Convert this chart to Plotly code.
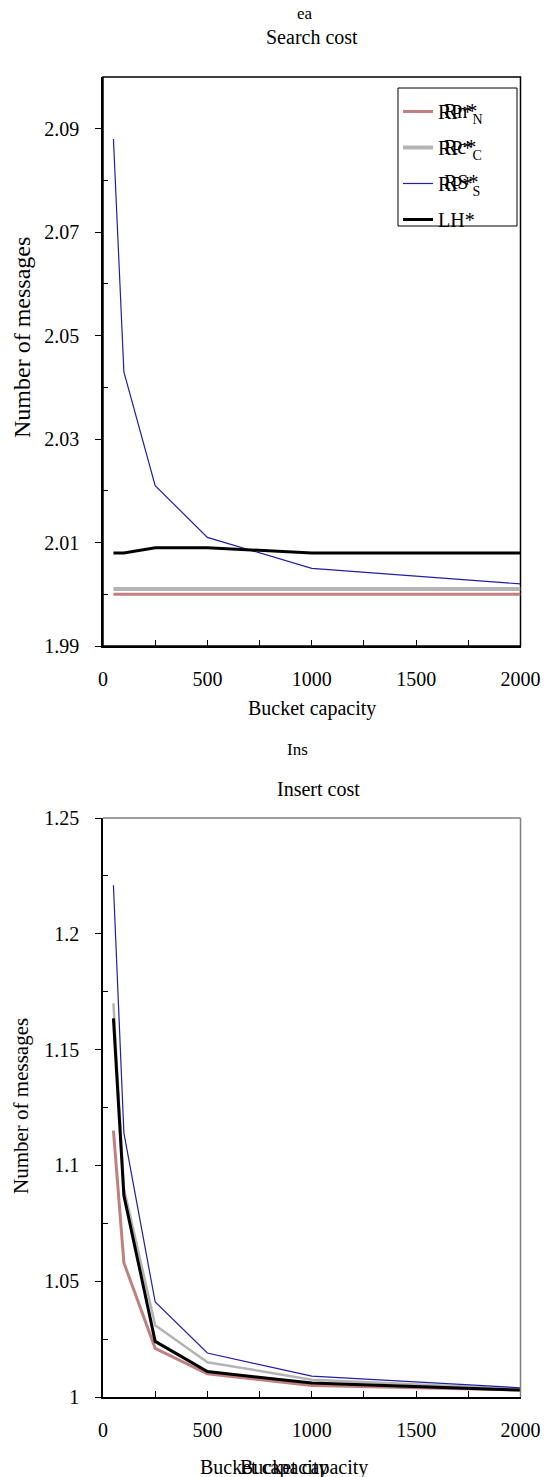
import plotly.graph_objects as go

# ---- data ----
bucket_capacity = [50, 100, 250, 500, 1000, 2000]

search_rp_n = [2.000, 2.000, 2.000, 2.000, 2.000, 2.000]
search_rp_c = [2.001, 2.001, 2.001, 2.001, 2.001, 2.001]
search_rp_s = [2.088, 2.043, 2.021, 2.011, 2.005, 2.002]
search_lh = [2.008, 2.008, 2.009, 2.009, 2.008, 2.008]

insert_rp_n = [1.115, 1.058, 1.021, 1.010, 1.005, 1.003]
insert_rp_c = [1.170, 1.090, 1.031, 1.015, 1.0075, 1.0035]
insert_rp_s = [1.221, 1.114, 1.041, 1.019, 1.009, 1.004]
insert_lh = [1.1635, 1.087, 1.024, 1.011, 1.006, 1.003]

series_names = ["RP*<sub>N</sub>", "RP*<sub>C</sub>", "RP*<sub>S</sub>", "LH*"]
overlay_labels = ["Rn*", "Rc*", "RS*"]
series_colors = ["#C08080", "#B4B4B4", "#2020A0", "#000000"]
search_widths = [3, 4, 1.2, 3]
insert_widths = [3, 2.5, 1.2, 3]

W, H = 551, 1477
FONT = "Liberation Serif"

fig = go.Figure()

search_vals = [search_rp_n, search_rp_c, search_rp_s, search_lh]
insert_vals = [insert_rp_n, insert_rp_c, insert_rp_s, insert_lh]

for i, (name, col) in enumerate(zip(series_names, series_colors)):
    fig.add_trace(go.Scatter(x=bucket_capacity, y=search_vals[i], mode="lines", name=name,
                             line=dict(color=col, width=search_widths[i]), xaxis="x", yaxis="y",
                             legendgroup=f"g{i}", showlegend=True))
for i, (name, col) in enumerate(zip(series_names, series_colors)):
    fig.add_trace(go.Scatter(x=bucket_capacity, y=insert_vals[i], mode="lines", name=name,
                             line=dict(color=col, width=insert_widths[i]), xaxis="x2", yaxis="y2",
                             legendgroup=f"g{i}", showlegend=False))

def px_x(x):
    return x / W

def px_y(y):
    return 1 - y / H

xdom = [px_x(103), px_x(520.5)]
top_dom = [px_y(646), px_y(77)]
bot_dom = [px_y(1397), px_y(818)]

tickfont = dict(family=FONT, size=20, color="black")

def xaxis(anchor):
    return dict(domain=xdom, anchor=anchor, range=[0, 2000], tickvals=[0, 500, 1000, 1500, 2000],
                ticks="inside", ticklen=6, tickcolor="black", showgrid=False, zeroline=False,
                showline=True, linecolor="black", linewidth=1.5, mirror=False, automargin=False,
                tickfont=tickfont, ticklabelstandoff=14,
                minor=dict(ticks="inside", dtick=250, tick0=0, ticklen=6, tickcolor="black"))

fig.update_layout(
    width=W, height=H,
    margin=dict(l=0, r=0, t=0, b=0, autoexpand=False),
    paper_bgcolor="white", plot_bgcolor="white",
    font=dict(family=FONT, size=20, color="black"),
    xaxis=xaxis("y"),
    yaxis=dict(domain=top_dom, anchor="x", range=[1.99, 2.1], tickvals=[1.99, 2.01, 2.03, 2.05, 2.07, 2.09],
               ticktext=["1.99", "2.01", "2.03", "2.05", "2.07", "2.09"], automargin=False,
               ticks="outside", ticklen=6, tickcolor="black", showgrid=False, zeroline=False,
               showline=True, linecolor="black", linewidth=1.5, tickfont=tickfont, ticklabelstandoff=12,
               minor=dict(ticks="inside", tickvals=[2.0, 2.02, 2.04, 2.06, 2.08], ticklen=5, tickcolor="black")),
    xaxis2=xaxis("y2"),
    yaxis2=dict(domain=bot_dom, anchor="x2", range=[1.0, 1.25], tickvals=[1.0, 1.05, 1.1, 1.15, 1.2, 1.25],
                ticktext=["1", "1.05", "1.1", "1.15", "1.2", "1.25"], automargin=False,
                ticks="outside", ticklen=6, tickcolor="black", showgrid=False, zeroline=False,
                showline=True, linecolor="black", linewidth=1.5, tickfont=tickfont, ticklabelstandoff=12,
                minor=dict(ticks="inside", tickvals=[1.025, 1.075, 1.125, 1.175, 1.225], ticklen=5, tickcolor="black")),
    legend=dict(x=px_x(398), y=px_y(92), xanchor="left", yanchor="top",
                bgcolor="rgba(0,0,0,0)", borderwidth=0,
                font=dict(family=FONT, size=20, color="black"), tracegroupgap=7,
                itemwidth=30),
    showlegend=True,
)

# legend frame
fig.add_shape(type="rect", xref="paper", yref="paper", x0=px_x(398), x1=px_x(517), y0=px_y(226), y1=px_y(88),
              line=dict(color="black", width=1), fillcolor="white", layer="above")

# plot frame (top chart black, bottom chart grey on top/right)
fig.add_shape(type="rect", xref="paper", yref="paper", x0=xdom[0], x1=xdom[1], y0=top_dom[0], y1=top_dom[1],
              line=dict(color="black", width=1.5), layer="below")
fig.add_shape(type="line", xref="paper", yref="paper", x0=xdom[0], x1=xdom[1], y0=bot_dom[1], y1=bot_dom[1],
              line=dict(color="#808080", width=1.5))
fig.add_shape(type="line", xref="paper", yref="paper", x0=xdom[1], x1=xdom[1], y0=bot_dom[0], y1=bot_dom[1],
              line=dict(color="#808080", width=1.5))

def ann(text, x, y, size=20, angle=0, xanchor="center"):
    fig.add_annotation(text=text, xref="paper", yref="paper", x=px_x(x), y=px_y(y),
                       showarrow=False, font=dict(family=FONT, size=size, color="black"),
                       textangle=angle, xanchor=xanchor, yanchor="middle")

ann("ea", 305, 14, 17)
ann("Search cost", 312, 37, 20)
ann("Bucket capacity", 312, 708, 20)
ann("Number of messages", 22, 338, 24, -90)
ann("Ins", 297, 749, 17)
ann("Insert cost", 318, 789, 20)
ann("Number of messages", 21, 1106, 21, -90)
ann("Bucket capacity", 264, 1467, 20)
ann("Bucket capacity", 304, 1467, 20)

# overlapping legend label residue seen in the reference
for lbl, yy in zip(overlay_labels, [111, 146.5, 182]):
    fig.add_annotation(text=lbl, xref="paper", yref="paper", x=px_x(442), y=px_y(yy),
                       showarrow=False, font=dict(family=FONT, size=20, color="black"),
                       xanchor="left", yanchor="middle")

fig.write_html("out.html", config={"displayModeBar": False},
               post_script="document.body.style.margin='0';document.body.style.overflow='hidden';")
